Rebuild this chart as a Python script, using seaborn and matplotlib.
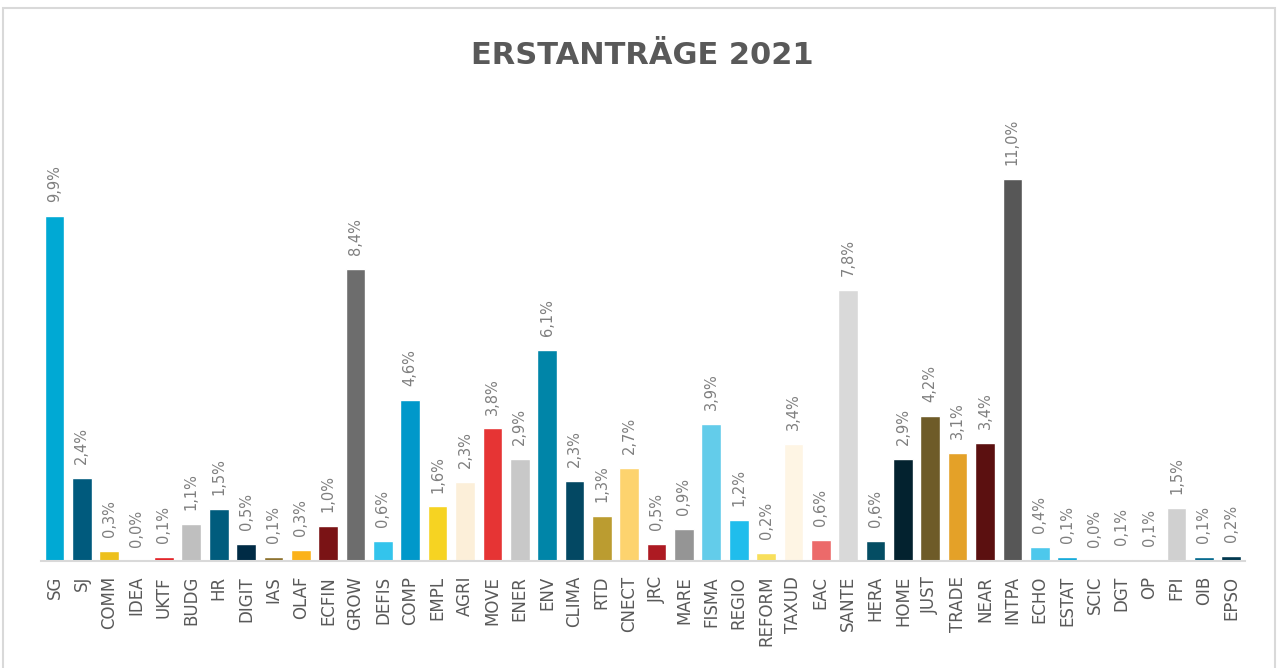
import matplotlib
matplotlib.use("Agg")
import matplotlib.pyplot as plt
import seaborn as sns
import pandas as pd
from matplotlib.patches import Rectangle

categories = ["SG", "SJ", "COMM", "IDEA", "UKTF", "BUDG", "HR", "DIGIT", "IAS", "OLAF",
              "ECFIN", "GROW", "DEFIS", "COMP", "EMPL", "AGRI", "MOVE", "ENER", "ENV", "CLIMA",
              "RTD", "CNECT", "JRC", "MARE", "FISMA", "REGIO", "REFORM", "TAXUD", "EAC", "SANTE",
              "HERA", "HOME", "JUST", "TRADE", "NEAR", "INTPA", "ECHO", "ESTAT", "SCIC", "DGT",
              "OP", "FPI", "OIB", "EPSO"]
values = [9.9, 2.37, 0.27, 0.0, 0.1, 1.06, 1.49, 0.49, 0.1, 0.3,
          1.0, 8.37, 0.57, 4.62, 1.56, 2.27, 3.8, 2.92, 6.05, 2.29,
          1.28, 2.67, 0.47, 0.91, 3.93, 1.16, 0.22, 3.36, 0.59, 7.79,
          0.57, 2.92, 4.17, 3.09, 3.39, 10.97, 0.39, 0.1, 0.0, 0.05,
          0.02, 1.51, 0.1, 0.14]
value_labels = ["9,9%", "2,4%", "0,3%", "0,0%", "0,1%", "1,1%", "1,5%", "0,5%", "0,1%", "0,3%",
                "1,0%", "8,4%", "0,6%", "4,6%", "1,6%", "2,3%", "3,8%", "2,9%", "6,1%", "2,3%",
                "1,3%", "2,7%", "0,5%", "0,9%", "3,9%", "1,2%", "0,2%", "3,4%", "0,6%", "7,8%",
                "0,6%", "2,9%", "4,2%", "3,1%", "3,4%", "11,0%", "0,4%", "0,1%", "0,0%", "0,1%",
                "0,1%", "1,5%", "0,1%", "0,2%"]
colors = ["#00A9D4", "#005A7D", "#EDC01C", "#CCCCCC", "#E31E24", "#BFBFBF", "#005C7D", "#002B45", "#8B6F2A", "#FBB21A",
          "#7A1315", "#6D6D6D", "#33C4EC", "#0098CA", "#F6D322", "#FCEFD9", "#E63434", "#C8C8C8", "#0085A8", "#034863",
          "#BB9C30", "#FDD36E", "#AD1A22", "#959595", "#63CCEA", "#20BDEC", "#F8DF5B", "#FEF5E4", "#EC6A6A", "#D9D9D9",
          "#044D63", "#03222F", "#6E5B28", "#E4A128", "#5B1010", "#575757", "#4DC8EC", "#10A8DA", "#CCCCCC", "#FCE8D5",
          "#EEEEEE", "#D0D0D0", "#00678C", "#01384F"]
title = "ERSTANTRÄGE 2021"

df = pd.DataFrame({"dg": categories, "share": values})

sns.set_style("white")
plt.rcParams["font.family"] = ["DejaVu Sans"]

fig = plt.figure(figsize=(12.79, 6.68), dpi=100)
ax = fig.add_axes([0.0319, 0.1606, 0.9415, 0.6597])

sns.barplot(data=df, x="dg", y="share", hue="dg", palette=colors, legend=False,
            width=0.72, saturation=1, ax=ax)

ax.set_xlim(-0.5, len(categories) - 0.5)
ax.set_ylim(0, 12.66)
ax.set_xlabel("")
ax.set_ylabel("")
ax.set_yticks([])
for s in ["top", "left", "right"]:
    ax.spines[s].set_visible(False)
ax.spines["bottom"].set_color("#D9D9D9")
ax.spines["bottom"].set_linewidth(1.5)
ax.tick_params(axis="x", length=0, pad=11, labelsize=12, labelcolor="#595959")
for lbl in ax.get_xticklabels():
    lbl.set_rotation(90)

for patch, lab in zip(ax.patches, value_labels):
    x = patch.get_x() + patch.get_width() / 2
    h = patch.get_height()
    ax.annotate(lab, (x, h), xytext=(0, 10), textcoords="offset points",
                rotation=90, ha="center", va="bottom", fontsize=10.5, color="#7F7F7F")

fig.text(642 / 1279, 1 - 55 / 668, title, ha="center", va="center",
         fontsize=22, fontweight="bold", color="#595959")

fig.patches.append(Rectangle((3 / 1279, -0.05), 1272 / 1279, 1.05 - 8 / 668,
                             transform=fig.transFigure, fill=False,
                             edgecolor="#D9D9D9", linewidth=1.5))

fig.savefig("out.png", dpi=100, facecolor="white")
